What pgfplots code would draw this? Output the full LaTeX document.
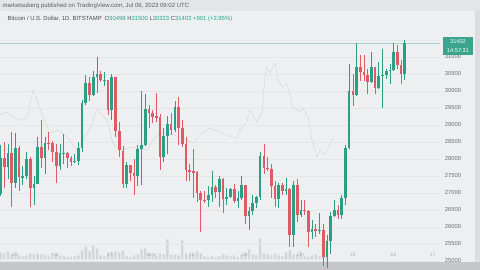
\documentclass[border=0pt]{standalone}
\usepackage{pgfplots}
\usepackage{pgfplotstable}
\pgfplotsset{compat=1.18}
\usepackage{fontspec}
\setmainfont{Liberation Sans}
\definecolor{bgc}{HTML}{EEEFF1}
\definecolor{headc}{HTML}{E4E5E7}
\definecolor{barc}{HTML}{C5C6C8}
\definecolor{stripc}{HTML}{DCDDE0}
\definecolor{gridc}{HTML}{E4E6E8}
\definecolor{upc}{HTML}{2B9F85}
\definecolor{dnc}{HTML}{DE5B66}
\definecolor{ghostc}{HTML}{D6D8DB}
\definecolor{volc}{HTML}{D3D6D9}
\definecolor{labc}{HTML}{6A6D75}
\definecolor{tealt}{HTML}{22A68C}
\definecolor{pricel}{HTML}{A6D3C8}
\definecolor{boxc}{HTML}{3AA58C}

\pgfplotstableread{
d O H L C
0 26970 28400 26900 28030
1 28030 28500 27150 27770
2 27770 28450 27400 28170
3 28170 28800 26600 27300
4 27300 28750 27150 28330
5 28330 28380 27050 27480
6 27480 27800 27250 27490
7 27490 28200 27400 27990
8 27990 28050 26600 27140
9 27140 27500 26650 27270
10 27270 28650 27250 28350
11 28350 29150 27750 28030
12 28030 28650 27550 28480
13 28480 28800 28250 28460
14 28460 28520 27900 28200
15 28200 28450 27300 27800
16 27800 28450 27680 28170
17 28170 28750 27850 28180
18 28180 28200 27730 28040
19 28040 28100 27800 27920
20 27920 28150 27880 27950
21 27950 28500 27820 28330
22 28330 29750 28200 29650
23 29650 30480 29600 30230
24 30230 30420 29700 29890
25 29890 30600 29850 30400
26 30400 31000 29950 30490
27 30490 30600 30250 30320
28 30320 30550 30150 30320
29 30320 30320 29300 29450
30 29450 30500 29150 30400
31 30400 30420 28650 28820
32 28820 29100 28050 28250
33 28250 28380 27150 27270
34 27270 27900 27150 27820
35 27820 27820 27350 27590
36 27590 28000 26950 27510
37 27510 28400 27200 28300
38 28300 30000 27250 28420
39 28420 29900 28380 29480
40 29480 29580 28900 29340
41 29340 29450 29050 29250
42 29250 29950 29100 29230
43 29230 29330 27680 28070
44 28070 28900 27900 28680
45 28680 29250 28150 29030
46 29030 29350 28700 28850
47 28850 29700 28800 29530
48 29530 29820 28400 28900
49 28900 29150 28350 28450
50 28450 28650 27350 27690
51 27690 27850 27350 27630
52 27630 28300 26850 27620
53 27620 27650 26750 26990
54 26990 27050 25850 26800
55 26800 27050 26700 26780
56 26780 27200 26600 26930
57 26930 27650 26750 27170
58 27170 27250 26850 27030
59 27030 27500 26600 27400
60 27400 27450 26400 26830
61 26830 27150 26650 26890
62 26890 27150 26850 27120
63 27120 27250 26700 26750
64 26750 27050 26550 26850
65 26850 27500 26800 27230
66 27230 27230 26100 26330
67 26330 26600 25900 26480
68 26480 26950 26350 26720
69 26720 26900 26570 26870
70 26870 28200 26800 28080
71 28080 28450 27550 27750
72 27750 28050 27650 27700
73 27700 27850 26850 27220
74 27220 27350 26600 26820
75 26820 27300 26550 27250
76 27250 27300 26950 27070
77 27070 27450 26950 27120
78 27120 27150 25400 25760
79 25760 27350 25400 27240
80 27240 27400 26150 26340
81 26340 26800 26300 26500
82 26500 26800 26350 26480
83 26480 26500 25400 25850
84 25850 26200 25650 25940
85 25940 26100 25700 25900
86 25900 26400 25800 25920
87 25920 26100 24850 25120
88 25120 25750 24800 25580
89 25580 26450 25200 26330
90 26330 26800 26300 26510
91 26510 26650 26250 26340
92 26340 26950 26250 26840
93 26840 28400 26650 28310
94 28310 30800 28280 30000
95 30000 30500 29550 29890
96 29890 31400 29850 30700
97 30700 31050 30300 30550
98 30550 31050 30300 30470
99 30470 30650 29900 30270
100 30270 31150 30250 30700
101 30700 30700 29900 30080
102 30080 30850 30050 30450
103 30450 31250 29500 30480
104 30480 30650 30350 30590
105 30590 30800 30200 30620
106 30620 31400 30600 31160
107 31160 31350 30650 30770
108 30770 30900 30200 30500
109 30498 31500 30323 31402
}\ohlc

\pgfplotstableread{
d v
0 14
1 12
2 16
3 10
4 12
5 8
6 6
7 8
8 12
9 10
10 12
11 10
12 8
13 6
14 6
15 10
16 8
17 7
18 5
19 5
20 6
21 8
22 18
23 26
24 16
25 28
26 22
27 8
28 6
29 12
30 14
31 16
32 14
33 18
34 6
35 5
36 8
37 10
38 20
39 22
40 12
41 6
42 6
43 12
44 10
45 40
46 10
47 9
48 8
49 38
50 12
51 8
52 10
53 16
54 12
55 6
56 5
57 6
58 4
59 6
60 10
61 8
62 6
63 8
64 5
65 10
66 12
67 20
68 10
69 8
70 42
71 12
72 10
73 8
74 12
75 8
76 6
77 14
78 18
79 10
80 8
81 16
82 6
83 5
84 8
85 10
86 6
87 6
88 8
}\vol

\begin{document}
\begin{tikzpicture}[x=1pt,y=1pt]
\useasboundingbox (0,0) rectangle (480,270);
\fill[bgc] (0,0) rectangle (480,270);
\fill[barc] (0,0) rectangle (480,8);
\fill[stripc] (475,8) rectangle (480,259);

% volume
\begin{axis}[at={(0,21)}, anchor=south west, scale only axis,
  width=440pt, height=50pt, xmin=-0.15, xmax=118.5, ymin=0, ymax=100,
  hide axis, clip=false]
\addplot[ybar, bar width=2.4pt, fill=volc, draw=none] table[x=d,y=v] {\vol};
\end{axis}

% price
\begin{axis}[at={(0,0)}, anchor=south west, scale only axis,
  width=440pt, height=270pt,
  xmin=-0.15, xmax=118.5, ymin=24735.3, ymax=32676.5,
  clip=false,
  axis line style={draw=none}, major tick length=0pt,
  scaled y ticks=false,
  ytick={25000,25500,...,31500},
  ymajorgrids, grid style={draw=gridc, line width=0.4pt},
  yticklabel pos=right,
  yticklabel style={anchor=center, xshift=13pt, font=\fontsize{5.8}{6}\selectfont, text=labc},
  xtick={3.9,14.7,29.5,40.8,51.6,65.9,80.7,95.0,105.8,116.6},
  xticklabels={23,Apr,17,May,10,24,Jun,22,Jul,17},
  xticklabel style={anchor=center, yshift=15pt, font=\fontsize{5}{6}\selectfont, text=labc!55},
  /pgf/number format/.cd, 1000 sep={}, fixed, precision=0, assume math mode=true]

% faint overlay line
\addplot[color=ghostc, line width=0.5pt] coordinates {
(-0.15,29294) (1.74,29382) (3.36,29235) (5.25,29147) (7.13,29206) (8.75,30029)
(9.83,29735) (11.18,29294) (13.33,28765) (15.49,28853) (17.91,28647) (20.61,28265)
(24.11,28912) (26,29500) (26.8,29353) (28.7,29147) (30.3,28471) (32.2,28265)
(35.7,28353) (39.5,28265) (41.1,28559) (43.0,28765) (47.0,28700) (51.9,28471)
(54.6,28794) (56.5,28912) (59.2,28794) (61.0,28706) (63.7,28618) (64.5,28853)
(66.4,29088) (67.2,29441) (69.1,29088) (70.5,29353) (71.3,30412) (71.8,30706)
(72.6,30529) (74.0,30824) (74.8,30324) (76.1,30118) (77.2,30235) (78.8,29529)
(80.7,29382) (81.5,29500) (82.9,29235) (84.0,28559) (84.8,28265) (85.3,28059)
(86.1,28265) (87.5,28118) (89.6,28618)};

% last price line
\addplot[color=pricel, line width=0.5pt] coordinates {(-0.15,31402) (118.5,31402)};

% wicks
\addplot[draw=none, mark=none, restrict expr to domain={\thisrow{C}-\thisrow{O}}{0:100000},
  error bars/.cd, y dir=both, y explicit, error mark=none,
  error bar style={line width=0.7pt, draw=upc}]
  table[x=d, y expr={(\thisrow{H}+\thisrow{L})/2}, y error expr={(\thisrow{H}-\thisrow{L})/2}] {\ohlc};
\addplot[draw=none, mark=none, restrict expr to domain={\thisrow{C}-\thisrow{O}}{-100000:-0.001},
  error bars/.cd, y dir=both, y explicit, error mark=none,
  error bar style={line width=0.7pt, draw=dnc}]
  table[x=d, y expr={(\thisrow{H}+\thisrow{L})/2}, y error expr={(\thisrow{H}-\thisrow{L})/2}] {\ohlc};
% bodies
\addplot[draw=none, mark=none, restrict expr to domain={\thisrow{C}-\thisrow{O}}{0:100000},
  error bars/.cd, y dir=both, y explicit, error mark=none,
  error bar style={line width=2.7pt, draw=upc}]
  table[x=d, y expr={(\thisrow{O}+\thisrow{C})/2}, y error expr={max(abs(\thisrow{C}-\thisrow{O})/2,14)}] {\ohlc};
\addplot[draw=none, mark=none, restrict expr to domain={\thisrow{C}-\thisrow{O}}{-100000:-0.001},
  error bars/.cd, y dir=both, y explicit, error mark=none,
  error bar style={line width=2.7pt, draw=dnc}]
  table[x=d, y expr={(\thisrow{O}+\thisrow{C})/2}, y error expr={max(abs(\thisrow{C}-\thisrow{O})/2,14)}] {\ohlc};
\end{axis}

% header
\fill[headc] (0,259) rectangle (480,270);
\node[anchor=west, inner sep=0pt, text=labc!85!black, font=\fontsize{6}{6}\selectfont]
  at (2.5,264.5) {marketsuberg published on TradingView.com, Jul 06, 2023 09:02 UTC};
\node[anchor=west, inner sep=0pt, text=labc!70!black, font=\fontsize{5.9}{6}\selectfont]
  at (7.5,251) {Bitcoin / U.S. Dollar, 1D, BITSTAMP\enspace O\textcolor{tealt}{30498} H\textcolor{tealt}{31500} L\textcolor{tealt}{30323} C\textcolor{tealt}{31402} \textcolor{tealt}{+901 (+2.95\%)}};

% last price box
\fill[boxc] (443,215) rectangle (473,233);
\node[text=white, inner sep=0pt, font=\fontsize{5.6}{6}\selectfont] at (458,228.5) {31402};
\node[text=white, inner sep=0pt, font=\fontsize{5.6}{6}\selectfont] at (458,219.5) {14:57:31};
\end{tikzpicture}
\end{document}
